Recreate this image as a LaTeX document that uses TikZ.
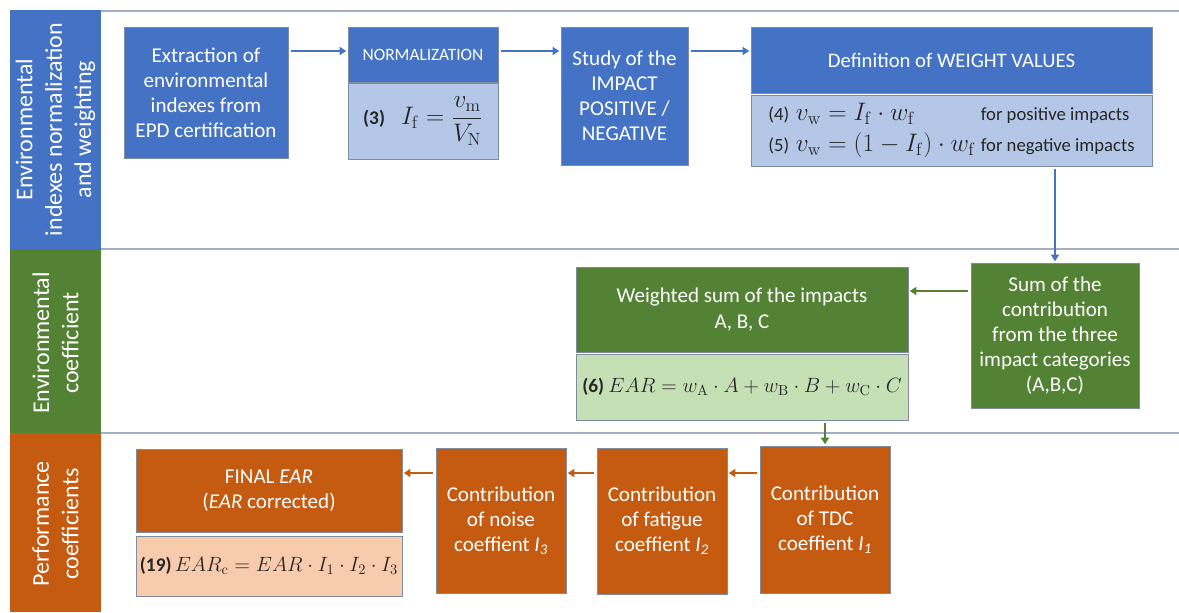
\RequirePackage{fix-cm}
\documentclass[tikz,border=0pt]{standalone}
\usepackage[no-math]{fontspec}
\setmainfont{Carlito}
\usepackage{xcolor}
\usepackage{tikz}
\usetikzlibrary{arrows.meta}

\definecolor{envblue}{HTML}{4472C4}
\definecolor{envbluelight}{HTML}{B4C7E7}
\definecolor{envgreen}{HTML}{548235}
\definecolor{envgreenlight}{HTML}{C5E0B4}
\definecolor{perforange}{HTML}{C55A11}
\definecolor{perforangelight}{HTML}{F8CBAD}
\definecolor{lanegrey}{HTML}{A3AEC4}
\definecolor{boxedge}{HTML}{7F8BA0}
\definecolor{eqtext}{HTML}{262626}

\newcommand{\eqbig}[2]{{\fontsize{#1}{#1}\selectfont$#2$}}

\begin{document}
\begin{tikzpicture}[x=0.75pt, y=-0.75pt,
    box/.style={draw=boxedge, line width=0.6pt, inner sep=0pt, align=center,
        text=white, font=\fontsize{15.8}{18.8}\selectfont},
    eqbox/.style={box, text=eqtext, font=\fontsize{14.5}{17.5}\selectfont},
    lanetext/.style={rotate=90, align=center, text=white,
        font=\fontsize{18}{22}\selectfont},
    laneedge/.style={draw=lanegrey, line width=1.5pt},
    flow/.style={line width=1.5pt, shorten <=2pt, shorten >=1pt,
        -{Triangle[length=5pt,width=6pt]}}]

    \useasboundingbox (0,0) rectangle (1179,612);

    % Lanes
    \fill[envblue] (10,10) rectangle (101,249);
    \fill[envgreen] (10,249) rectangle (101,433);
    \fill[perforange] (10,433) rectangle (101,612);
    \foreach \yy in {11,249,433} {
        \draw[laneedge] (101,\yy) -- (1179,\yy);
    }
    \node[lanetext] (lanenorm) at (55.5,129.5) {Environmental\\indexes normalization\\and weighting};
    \node[lanetext] (laneenv) at (55.5,343) {Environmental\\coefficient};
    \node[lanetext] (laneperf) at (55.5,524) {Performance\\coefficients};

    % Normalization and weighting
    \node[box, fill=envblue, minimum width=123pt, minimum height=98.25pt] (extract) at (206,92.5)
        {Extraction of\\environmental\\indexes from\\EPD certification};
    \node[box, fill=envblue, minimum width=112.5pt, minimum height=41.25pt,
        font=\fontsize{13}{16}\selectfont] (normhead) at (423,54.5) {NORMALIZATION};
    \node[eqbox, fill=envbluelight, minimum width=112.5pt, minimum height=57pt] (normeq) at (423,121)
        {\textbf{(3)}\hspace{12pt}\eqbig{19}{\displaystyle I_{\mathrm{f}}=\frac{v_{\mathrm{m}}}{V_{\mathrm{N}}}}};
    \node[box, fill=envblue, minimum width=95.25pt, minimum height=103.5pt] (study) at (624.5,96)
        {Study of the\\IMPACT\\POSITIVE /\\NEGATIVE};
    \node[box, fill=envblue, minimum width=300.75pt, minimum height=49.5pt,
        font=\fontsize{15.5}{18.5}\selectfont] (weighthead) at (951.5,60) {Definition of WEIGHT VALUES};
    \node[eqbox, fill=envbluelight, minimum width=300.75pt, minimum height=53.25pt,
        font=\fontsize{14}{17}\selectfont] (weighteq) at (951.5,130.5)
        {\begin{tabular}{@{}l@{\hspace{5pt}}l@{\hspace{4pt}}l@{}}
            (4) & \eqbig{19}{v_{\mathrm{w}}=I_{\mathrm{f}}\cdot w_{\mathrm{f}}} & for positive impacts\\[4pt]
            (5) & \eqbig{19}{v_{\mathrm{w}}=(1-I_{\mathrm{f}})\cdot w_{\mathrm{f}}} & for negative impacts
        \end{tabular}};

    % Environmental coefficient
    \node[box, fill=envgreen, minimum width=126pt, minimum height=108.75pt] (sumbox) at (1055,335.5)
        {Sum of the\\contribution\\from the three\\impact categories\\(A,B,C)};
    \node[box, fill=envgreen, minimum width=249pt, minimum height=63.75pt] (wsumhead) at (742,309.5)
        {Weighted sum of the impacts\\A, B, C};
    \node[eqbox, fill=envgreenlight, minimum width=249pt, minimum height=49.5pt] (wsumeq) at (742,387)
        {\textbf{(6)}\ \eqbig{15.5}{EAR=w_{\mathrm{A}}\cdot A+w_{\mathrm{B}}\cdot B+w_{\mathrm{C}}\cdot C}};

    % Performance coefficients
    \node[box, fill=perforange, minimum width=97.5pt, minimum height=110.25pt] (tdc) at (825,519.5)
        {Contribution\\of TDC\\coeffient \textit{I\textsubscript{1}}};
    \node[box, fill=perforange, minimum width=97.5pt, minimum height=109.5pt] (fatigue) at (662,521)
        {Contribution\\of fatigue\\coeffient \textit{I\textsubscript{2}}};
    \node[box, fill=perforange, minimum width=97.5pt, minimum height=108.75pt] (noise) at (501,520.5)
        {Contribution\\of noise\\coeffient \textit{I\textsubscript{3}}};
    \node[box, fill=perforange, minimum width=199.5pt, minimum height=62.25pt] (finalhead) at (269,490.5)
        {FINAL \textit{EAR}\\(\textit{EAR} corrected)};
    \node[eqbox, fill=perforangelight, minimum width=199.5pt, minimum height=45pt] (finaleq) at (269,566)
        {\textbf{(19)}\,\eqbig{15.5}{EAR_{\mathrm{c}}=EAR\cdot I_1\cdot I_2\cdot I_3}};

    % Connectors
    \coordinate (toprow) at (0,51);
    \coordinate (midrow) at (0,291);
    \coordinate (lowrow) at (0,473);
    \draw[flow, envblue] (extract.east |- toprow) -- (normhead.west |- toprow);
    \draw[flow, envblue] (normhead.east |- toprow) -- (study.west |- toprow);
    \draw[flow, envblue] (study.east |- toprow) -- (weighthead.west |- toprow);
    \draw[flow, envblue] (weighteq.south -| sumbox.north) -- (sumbox.north);
    \draw[flow, envgreen] (sumbox.west |- midrow) -- (wsumhead.east |- midrow);
    \draw[flow, envgreen] (wsumeq.south -| tdc.north) -- (tdc.north);
    \draw[flow, perforange] (tdc.west |- lowrow) -- (fatigue.east |- lowrow);
    \draw[flow, perforange] (fatigue.west |- lowrow) -- (noise.east |- lowrow);
    \draw[flow, perforange] (noise.west |- lowrow) -- (finalhead.east |- lowrow);
\end{tikzpicture}
\end{document}
